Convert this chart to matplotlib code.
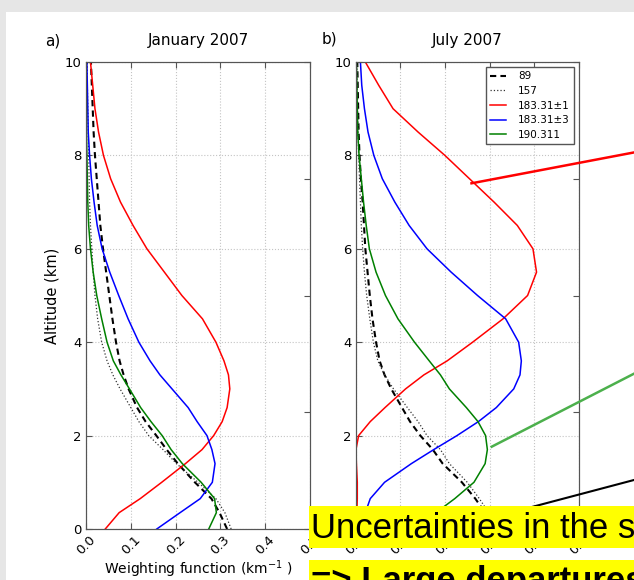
import matplotlib
matplotlib.use('Agg')
import matplotlib.pyplot as plt
import numpy as np
from matplotlib.lines import Line2D
from matplotlib.patches import Rectangle
from matplotlib.ticker import FormatStrFormatter

# altitude levels (km) where the weighting functions are tabulated
altitude = [0, 0.35, 0.65, 1.0, 1.4, 1.7, 2.0, 2.3, 2.6, 3.0, 3.3, 3.6, 4.0,
            4.5, 5.0, 5.5, 6.0, 6.5, 7.0, 7.5, 8.0, 8.5, 9.0, 9.5, 10.0]

channels = ['89', '157', '183.31\u00b11', '183.31\u00b13', '190.311']

# January 2007 weighting functions (km^-1)
jan_89 = [0.315, 0.298, 0.280, 0.243, 0.205, 0.180, 0.157, 0.133, 0.114, 0.095, 0.084, 0.075, 0.067,
          0.059, 0.052, 0.045, 0.038, 0.032, 0.028, 0.024, 0.020, 0.017, 0.015, 0.013, 0.011]
jan_157 = [0.324, 0.310, 0.290, 0.250, 0.202, 0.172, 0.140, 0.118, 0.100, 0.076, 0.060, 0.047, 0.035,
           0.026, 0.020, 0.016, 0.013, 0.010, 0.008, 0.007, 0.006, 0.005, 0.004, 0.003, 0.003]
jan_183_1 = [0.043, 0.074, 0.121, 0.169, 0.222, 0.259, 0.285, 0.304, 0.315, 0.321, 0.318, 0.308, 0.290,
             0.260, 0.214, 0.175, 0.136, 0.105, 0.077, 0.055, 0.039, 0.028, 0.020, 0.015, 0.010]
jan_183_3 = [0.158, 0.210, 0.255, 0.282, 0.288, 0.281, 0.270, 0.248, 0.228, 0.192, 0.165, 0.143, 0.118,
             0.094, 0.073, 0.053, 0.036, 0.025, 0.018, 0.012, 0.008, 0.005, 0.004, 0.003, 0.002]
jan_190 = [0.274, 0.291, 0.287, 0.257, 0.215, 0.190, 0.170, 0.145, 0.122, 0.097, 0.078, 0.061, 0.047,
           0.035, 0.024, 0.016, 0.010, 0.006, 0.004, 0.003, 0.002, 0.001, 0.001, 0.0005, 0.0]

# July 2007 weighting functions (km^-1)
jul_89 = [0.310, 0.290, 0.268, 0.238, 0.195, 0.173, 0.145, 0.122, 0.104, 0.080, 0.065, 0.054, 0.046,
          0.038, 0.032, 0.027, 0.022, 0.019, 0.016, 0.012, 0.009, 0.007, 0.006, 0.005, 0.004]
jul_157 = [0.320, 0.298, 0.277, 0.250, 0.210, 0.190, 0.160, 0.140, 0.116, 0.085, 0.065, 0.050, 0.040,
           0.032, 0.025, 0.020, 0.016, 0.013, 0.011, 0.009, 0.007, 0.006, 0.005, 0.004, 0.003]
jul_183_1 = [0.002, 0.003, 0.004, 0.004, 0.002, 0.001, 0.007, 0.033, 0.066, 0.112, 0.153, 0.205, 0.262,
             0.330, 0.385, 0.405, 0.397, 0.362, 0.310, 0.255, 0.200, 0.140, 0.084, 0.052, 0.022]
jul_183_3 = [0.015, 0.022, 0.033, 0.065, 0.125, 0.175, 0.227, 0.275, 0.315, 0.354, 0.368, 0.371, 0.365,
             0.336, 0.273, 0.214, 0.160, 0.120, 0.088, 0.060, 0.041, 0.028, 0.020, 0.014, 0.011]
jul_190 = [0.140, 0.180, 0.222, 0.265, 0.290, 0.295, 0.291, 0.274, 0.248, 0.210, 0.190, 0.165, 0.132,
           0.095, 0.067, 0.046, 0.031, 0.024, 0.018, 0.013, 0.008, 0.005, 0.004, 0.003, 0.002]

W, H = 634.0, 580.0


def fx(px):
    return px / W


def fy(py):
    return 1 - py / H


def draw_panel(ax, series, title, show_legend=False):
    w89, w157, w1831, w1833, w190 = series
    ax.plot(w89, altitude, color='k', ls='--', dashes=(3, 2), lw=1.5, label=channels[0])
    ax.plot(w157, altitude, color='#333333', ls=':', lw=0.9, label=channels[1])
    ax.plot(w1831, altitude, color='r', lw=1.1, label=channels[2])
    ax.plot(w1833, altitude, color='b', lw=1.1, label=channels[3])
    ax.plot(w190, altitude, color='g', lw=1.1, label=channels[4])

    ax.set_xlim(0, 0.5)
    ax.set_ylim(0, 10)
    ax.set_xticks(np.arange(0, 0.51, 0.1))
    ax.set_yticks([0, 2, 4, 6, 8, 10])
    ax.xaxis.set_major_formatter(FormatStrFormatter('%.1f'))
    ax.grid(True, ls=':', color='#c4c4c4', lw=0.8)
    ax.tick_params(direction='in', length=4, top=True, right=False,
                   labelsize=9.5, pad=3, color='#555555')
    for lbl in ax.get_xticklabels():
        lbl.set_rotation(45)
    for sp in ax.spines.values():
        sp.set_color('#555555')
    ax.set_title(title, fontsize=11, pad=12)

    # unlabelled ticks on the right-hand side
    axr = ax.twinx()
    axr.set_ylim(0, 10)
    axr.set_yticks([0, 2.5, 5, 7.5, 10])
    axr.tick_params(direction='in', length=4, labelright=False, color='#555555')
    for sp in axr.spines.values():
        sp.set_color('#555555')

    if show_legend:
        leg = ax.legend(loc='upper right', fontsize=7.5, fancybox=False, framealpha=1,
                        edgecolor='#555555', handlelength=1.6, handletextpad=1.1,
                        labelspacing=0.45, borderaxespad=0.5)
        leg.get_frame().set_linewidth(1.0)
        leg.set_zorder(10)


fig = plt.figure(figsize=(W / 100, H / 100), dpi=100, facecolor='#e6e6e6')
fig.add_artist(Rectangle((fx(6), 0), 1, fy(12), transform=fig.transFigure,
                         facecolor='white', edgecolor='none', zorder=-1))

ax_a = fig.add_axes([fx(86), fy(529), fx(310) - fx(86), fy(62) - fy(529)])
ax_b = fig.add_axes([fx(355.5), fy(529), fx(579) - fx(355.5), fy(62) - fy(529)])

draw_panel(ax_a, [jan_89, jan_157, jan_183_1, jan_183_3, jan_190], 'January 2007')
draw_panel(ax_b, [jul_89, jul_157, jul_183_1, jul_183_3, jul_190], 'July 2007', show_legend=True)

ax_a.set_ylabel('Altitude (km)', fontsize=10.5)
ax_a.set_xlabel('Weighting function (km$^{-1}$ )', fontsize=10, labelpad=1)

fig.text(fx(45), fy(46), 'a)', fontsize=11, va='baseline')
fig.text(fx(322), fy(43), 'b)', fontsize=11, va='baseline')

# pointer lines running off to the right
fig.add_artist(Line2D([fx(471.5), fx(640)], [fy(183.3), fy(151.3)], transform=fig.transFigure,
                      color='#ff0000', lw=1.8, zorder=5))
fig.add_artist(Line2D([fx(491.7), fx(640)], [fy(446.7), fy(370.6)], transform=fig.transFigure,
                      color='#4cb04c', lw=1.8, zorder=5))
fig.add_artist(Line2D([fx(480), fx(640)], [fy(520.7), fy(478.4)], transform=fig.transFigure,
                      color='k', lw=1.5, zorder=5))

# highlighted statement at the bottom
fig.add_artist(Rectangle((fx(309), fy(548)), 1, fy(506) - fy(548), transform=fig.transFigure,
                         facecolor='#ffff00', edgecolor='none', zorder=6))
fig.add_artist(Rectangle((fx(309), fy(600)), 1, fy(560) - fy(600), transform=fig.transFigure,
                         facecolor='#ffff00', edgecolor='none', zorder=6))
fig.text(fx(311), fy(538), 'Uncertainties in the s', fontsize=25, family='Liberation Sans',
         va='baseline', zorder=7)
fig.text(fx(311), fy(591), '=> Large departures', fontsize=25, family='Liberation Sans',
         fontweight='bold', va='baseline', zorder=7)

fig.savefig('out.png', dpi=100, facecolor=fig.get_facecolor())
